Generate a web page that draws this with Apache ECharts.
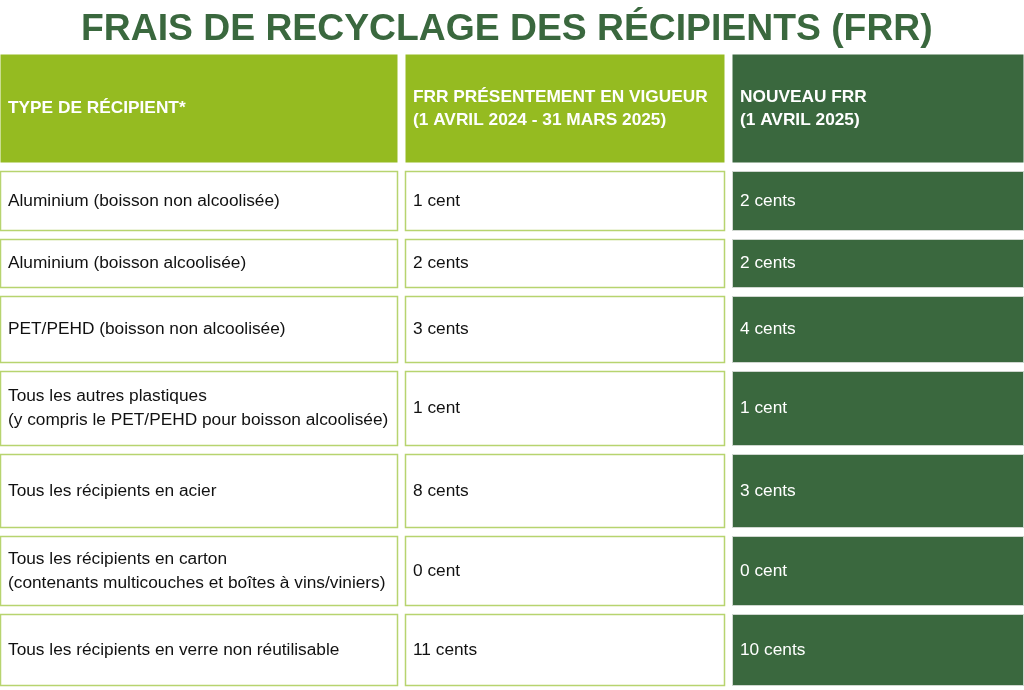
<!DOCTYPE html>
<html>
<head>
<meta charset="utf-8">
<script src="https://cdn.jsdelivr.net/npm/echarts@6/dist/echarts.min.js"></script>
<style>
  html, body { margin: 0; padding: 0; background: #fff; }
  #main { width: 1024px; height: 690px; }
</style>
</head>
<body>
<div id="main"></div>
<script>
// table content
var headers = [
  'TYPE DE RÉCIPIENT*',
  'FRR PRÉSENTEMENT EN VIGUEUR\n(1 AVRIL 2024 - 31 MARS 2025)',
  'NOUVEAU FRR\n(1 AVRIL 2025)'
];
var containerTypes = [
  'Aluminium (boisson non alcoolisée)',
  'Aluminium (boisson alcoolisée)',
  'PET/PEHD (boisson non alcoolisée)',
  'Tous les autres plastiques\n(y compris le PET/PEHD pour boisson alcoolisée)',
  'Tous les récipients en acier',
  'Tous les récipients en carton\n(contenants multicouches et boîtes à vins/viniers)',
  'Tous les récipients en verre non réutilisable'
];
var currentFees = ['1 cent', '2 cents', '3 cents', '1 cent', '8 cents', '0 cent', '11 cents'];
var newFees = ['2 cents', '2 cents', '4 cents', '1 cent', '3 cents', '0 cent', '10 cents'];

// layout of the grid (axis units); gap sits after every cell but the last
var colSpans = [405, 327, 292];
var rowSpans = [117, 68, 57, 75, 83, 82, 78, 72];
var gap = 7;

var lightGreen = '#95bb21';
var darkGreen = '#3a683e';

function cumulate(arr) {
  var out = [0];
  for (var i = 0; i < arr.length; i++) out.push(out[i] + arr[i]);
  return out;
}
var colStart = cumulate(colSpans);
var rowStart = cumulate(rowSpans);

var columns = [containerTypes, currentFees, newFees];
var cells = [];
for (var c = 0; c < 3; c++) {
  cells.push({ value: [c, 0], text: headers[c] });
  for (var r = 0; r < containerTypes.length; r++) {
    cells.push({ value: [c, r + 1], text: columns[c][r] });
  }
}

var myChart = echarts.init(document.getElementById('main'));
myChart.setOption({
  animation: false,
  title: {
    text: 'FRAIS DE RECYCLAGE DES RÉCIPIENTS (FRR)',
    left: 76,
    top: 6,
    textStyle: {
      fontFamily: 'Liberation Sans',
      fontSize: 37.3,
      fontWeight: 'bold',
      color: darkGreen
    }
  },
  grid: { left: 0, right: 0, top: 54, bottom: 4 },
  xAxis: { type: 'value', min: 0, max: colStart[colStart.length - 1], show: false },
  yAxis: { type: 'value', min: 0, max: rowStart[rowStart.length - 1], inverse: true, show: false },
  series: [{
    type: 'custom',
    data: cells,
    renderItem: function (params, api) {
      var c = api.value(0), r = api.value(1);
      var gx = c < colSpans.length - 1 ? gap : 0;
      var gy = r < rowSpans.length - 1 ? gap + 1 : 0;
      var p0 = api.coord([colStart[c], rowStart[r]]);
      var p1 = api.coord([colStart[c + 1] - gx, rowStart[r + 1] - gy]);
      var item = cells[params.dataIndex];
      var isHeader = r === 0;
      var fill, stroke, lw, color;
      if (isHeader) {
        fill = c === 2 ? darkGreen : lightGreen;
        stroke = null; lw = 0; color = '#fff';
      } else if (c === 2) {
        fill = darkGreen; stroke = '#cfd6cf'; lw = 1; color = '#fff';
      } else {
        fill = '#fff'; stroke = '#b7d46f'; lw = 1.5; color = '#111';
      }
      return {
        type: 'group',
        children: [{
          type: 'rect',
          shape: { x: p0[0] + 0.5, y: p0[1] + 0.5, width: p1[0] - p0[0] - 1, height: p1[1] - p0[1] - 1 },
          style: { fill: fill, stroke: stroke, lineWidth: lw }
        }, {
          type: 'text',
          x: p0[0] + 8,
          y: (p0[1] + p1[1]) / 2,
          style: {
            text: item.text,
            fill: color,
            font: (isHeader ? 'bold 17.3px' : '17.3px') + ' "Liberation Sans", Arial, sans-serif',
            lineHeight: isHeader ? 23 : 24,
            verticalAlign: 'middle',
            align: 'left'
          }
        }]
      };
    }
  }]
});
</script>
</body>
</html>
